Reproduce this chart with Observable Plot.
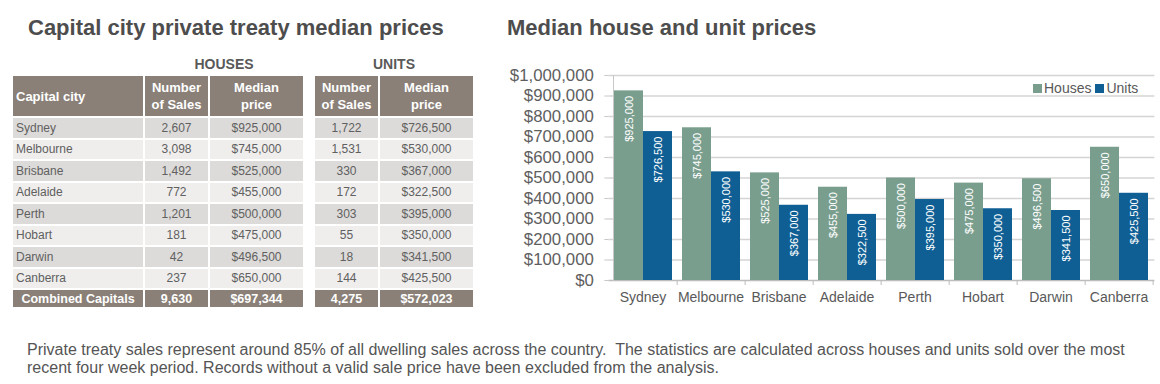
<!DOCTYPE html>
<html>
<head>
<meta charset="utf-8">
<script src="https://cdn.jsdelivr.net/npm/d3@7"></script>
<script src="https://cdn.jsdelivr.net/npm/@observablehq/plot@0.6"></script>
<style>
  html, body { margin: 0; padding: 0; background: #fff; }
  body { width: 1160px; height: 384px; position: relative; overflow: hidden;
         font-family: "Liberation Sans", Arial, sans-serif; }
  .title { position: absolute; font-weight: bold; font-size: 22px; color: #4d4d4d; white-space: nowrap; }
  #tbl { position: absolute; left: 11px; top: 52px; border-collapse: separate; border-spacing: 2px; }
  #tbl td { padding: 0; font-size: 12px; color: #606060; text-align: center; }
  #tbl td.city { text-align: left; padding-left: 3px; }
  #tbl tr.grp td { font-weight: bold; font-size: 14px; color: #595959; height: 20px; background: transparent; }
  #tbl tr.hdr td { background: #8a8078; color: #fff; font-weight: bold; font-size: 13px; height: 40px; line-height: 17px; }
  #tbl tr.row td { height: 19.5px; }
  #tbl tr.row.odd td { background: #dddbd9; }
  #tbl tr.row.even td { background: #efeeed; }
  #tbl tr.tot td { background: #8a8078; color: #fff; font-weight: bold; font-size: 12.5px; height: 17px; }
  #tbl td.sp { background: transparent !important; width: 8px; }
  #chart { position: absolute; left: 490px; top: 55px; }
  #legend { position: absolute; left: 1033px; top: 80px; font-size: 14px; color: #595959; display: flex; align-items: center; white-space: nowrap; }
  #legend span.sw { display: inline-block; width: 9px; height: 9px; margin-right: 2px; }
  #caption { position: absolute; left: 27px; top: 341px; font-size: 16px; line-height: 18px; color: #555; width: 1112px; }
</style>
</head>
<body>
<div class="title" style="left:28px; top:15px;">Capital city private treaty median prices</div>
<div class="title" style="left:507px; top:15px;">Median house and unit prices</div>
<table id="tbl"></table>
<div id="chart"></div>
<div id="legend"></div>
<div id="caption">Private treaty sales represent around 85% of all dwelling sales across the country.&nbsp; The statistics are calculated across houses and units sold over the most recent four week period. Records without a valid sale price have been excluded from the analysis.</div>
<script>
const cities = ["Sydney", "Melbourne", "Brisbane", "Adelaide", "Perth", "Hobart", "Darwin", "Canberra"];
const houseSales = [2607, 3098, 1492, 772, 1201, 181, 42, 237];
const housePrices = [925000, 745000, 525000, 455000, 500000, 475000, 496500, 650000];
const unitSales = [1722, 1531, 330, 172, 303, 55, 18, 144];
const unitPrices = [726500, 530000, 367000, 322500, 395000, 350000, 341500, 425500];
const totalLabel = "Combined Capitals";
const totalHouseSales = 9630;
const totalHousePrice = 697344;
const totalUnitSales = 4275;
const totalUnitPrice = 572023;
const series = ["Houses", "Units"];
const seriesColors = ["#7a9e8e", "#0f5f95"];
const yTicks = [0, 100000, 200000, 300000, 400000, 500000, 600000, 700000, 800000, 900000, 1000000];

const money = d3.format("$,");
const count = d3.format(",");

// ---- table ----
const tbl = document.getElementById("tbl");
let html = `<tr class="grp"><td></td><td colspan="2">HOUSES</td><td class="sp"></td><td colspan="2">UNITS</td></tr>`;
html += `<tr class="hdr"><td class="city" style="width:127px">Capital city</td><td style="width:63px">Number<br>of Sales</td><td style="width:93px">Median<br>price</td><td class="sp"></td><td style="width:63px">Number<br>of Sales</td><td style="width:93px">Median<br>price</td></tr>`;
cities.forEach((c, i) => {
  html += `<tr class="row ${i % 2 === 0 ? "odd" : "even"}"><td class="city">${c}</td><td>${count(houseSales[i])}</td><td>${money(housePrices[i])}</td><td class="sp"></td><td>${count(unitSales[i])}</td><td>${money(unitPrices[i])}</td></tr>`;
});
html += `<tr class="tot"><td>${totalLabel}</td><td>${count(totalHouseSales)}</td><td>${money(totalHousePrice)}</td><td class="sp"></td><td>${count(totalUnitSales)}</td><td>${money(totalUnitPrice)}</td></tr>`;
tbl.innerHTML = html;

// ---- chart ----
const data = [];
cities.forEach((c, i) => {
  data.push({city: c, series: "Houses", value: housePrices[i]});
  data.push({city: c, series: "Units", value: unitPrices[i]});
});

const W = 670, ML = 117, MR = 7;
const padIn = 0.136, padOut = 0.068;
const innerW = W - ML - MR;
const step = innerW / (cities.length - padIn + 2 * padOut);
const off = -padOut * step;

const chart = Plot.plot({
  width: W,
  height: 260,
  marginLeft: ML,
  marginRight: MR,
  marginTop: 20,
  marginBottom: 35,
  style: {fontFamily: "Liberation Sans, Arial, sans-serif", background: "transparent"},
  fx: {domain: cities, paddingInner: padIn, paddingOuter: padOut, label: null},
  x: {domain: series, padding: 0, axis: null},
  y: {domain: [0, 1000000], label: null},
  color: {domain: series, range: seriesColors},
  marks: [
    // horizontal gridlines spanning the whole plot
    Plot.axisY({ticks: yTicks.filter(d => d > 0), tickFormat: () => "", tickSize: -innerW,
      stroke: "#d4d4d4", strokeWidth: 1.5, dx: off, label: null}),
    // x axis baseline
    Plot.axisY({ticks: [0], tickFormat: () => "", tickSize: -innerW,
      stroke: "#bdbdbd", strokeWidth: 1.5, dx: off, label: null}),
    Plot.frame({anchor: "left", facet: "super", stroke: "#c8c8c8"}),
    Plot.barY(data, {fx: "city", x: "series", y: "value", fill: "series"}),
    Plot.text(data, {fx: "city", x: "series", y: "value", text: d => money(d.value), rotate: -90,
      textAnchor: "end", dy: 5, fill: "white", fontSize: 11}),
    Plot.axisY({ticks: yTicks, tickFormat: money, tickSize: 4, tickPadding: 11, fontSize: 16.8,
      fill: "#5e5e5e", stroke: "#c8c8c8", dx: off, label: null}),
    Plot.axisFx({anchor: "bottom", tickSize: 0, tickPadding: 12, fontSize: 14, fill: "#595959", label: null}),
    Plot.axisFx({anchor: "bottom", tickSize: 5, tickFormat: () => "", stroke: "#bdbdbd", dx: step / 2, label: null})
  ]
});
document.getElementById("chart").appendChild(chart);

// ---- legend ----
document.getElementById("legend").innerHTML = series.map((s, i) =>
  `<span class="sw" style="background:${seriesColors[i]}"></span><span style="margin-right:4px">${s}</span>`).join("");
</script>
</body>
</html>
